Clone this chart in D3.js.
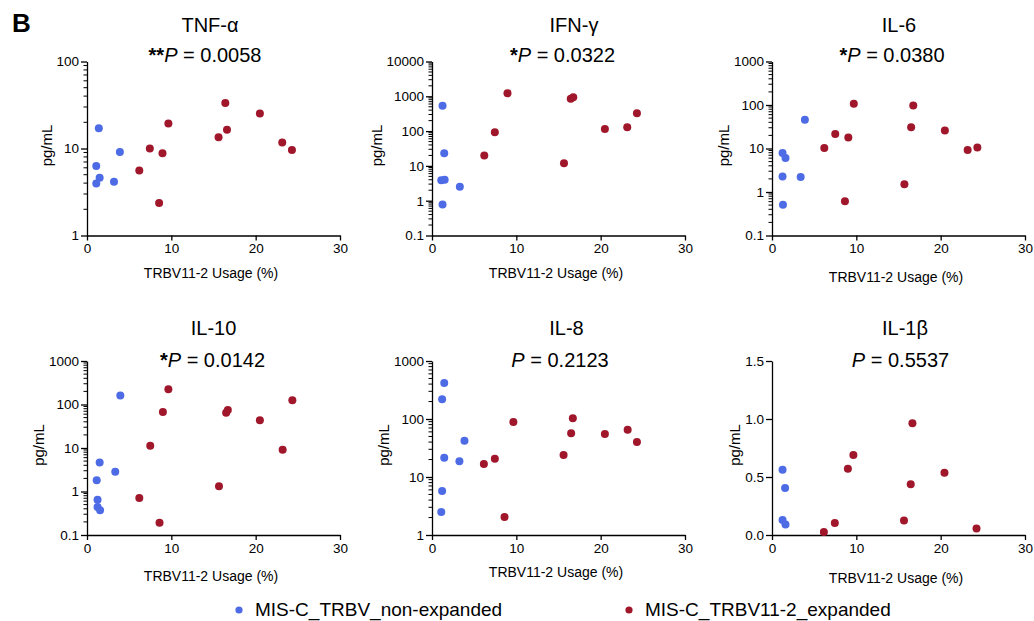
<!DOCTYPE html>
<meta charset="utf-8">
<script src="https://d3js.org/d3.v7.min.js"></script>
<style>
  body { margin: 0; background: #fff; }
  svg { display: block; }
  text { font-family: "Liberation Sans", Arial, sans-serif; fill: #000; }
</style>
<div id="my_dataviz"></div>
<script>
// each point is [TRBV11-2 usage (%), pg/mL]
var tnfNon = [[1.4, 17.1], [1.1, 6.3], [1.5, 4.6], [1.1, 3.95], [3.2, 4.15], [3.9, 9.1]];
var tnfExp = [[6.2, 5.6], [7.45, 10.0], [8.55, 2.37], [8.95, 8.8], [9.65, 19.4], [15.6, 13.5],
              [16.4, 33.3], [16.6, 16.4], [20.5, 25.3], [23.15, 11.7], [24.3, 9.6]];
var ifnNon = [[1.25, 537], [1.45, 23.2], [1.1, 3.9], [1.5, 4.0], [3.3, 2.5], [1.25, 0.78]];
var ifnExp = [[6.2, 19.9], [7.45, 93], [8.95, 1220], [15.65, 11.9], [16.45, 857], [16.75, 935],
              [20.5, 114], [23.15, 130], [24.3, 324]];
var il6Non = [[1.25, 7.9], [1.6, 6.05], [1.25, 2.26], [3.4, 2.22], [1.3, 0.51], [3.9, 45.9]];
var il6Exp = [[6.2, 10.3], [7.5, 21.5], [9.05, 18], [9.7, 107], [8.65, 0.61], [15.7, 1.51],
              [16.5, 30.6], [16.75, 98], [20.5, 26.1], [23.2, 9.2], [24.35, 10.6]];
var il10Non = [[3.95, 161], [1.5, 4.66], [3.35, 2.85], [1.15, 1.81], [1.25, 0.65], [1.25, 0.44], [1.55, 0.37]];
var il10Exp = [[6.2, 0.71], [7.5, 11.2], [8.6, 0.19], [9.0, 67], [9.65, 225], [15.65, 1.32],
               [16.5, 64.8], [16.7, 74.5], [20.5, 43.3], [23.2, 9.1], [24.35, 126]];
var il8Non = [[1.45, 418], [1.2, 218], [1.45, 21.5], [3.25, 18.6], [3.85, 42.3], [1.2, 5.74], [1.1, 2.49]];
var il8Exp = [[6.15, 16.8], [7.45, 20.7], [8.6, 2.04], [9.65, 88.8], [15.6, 23.9], [16.5, 56.6],
              [16.7, 103], [20.5, 55.1], [23.2, 65.5], [24.3, 40.1]];
var il1bNon = [[1.25, 0.563], [1.55, 0.406], [1.25, 0.129], [1.6, 0.091]];
var il1bExp = [[6.15, 0.026], [7.45, 0.103], [9.0, 0.571], [9.65, 0.689], [15.65, 0.126],
               [16.45, 0.437], [16.65, 0.963], [20.45, 0.537], [24.25, 0.057]];

var xTicks = [0, 10, 20, 30];
var tnfTicks = [1, 10, 100];
var ifnTicks = [0.1, 1, 10, 100, 1000, 10000];
var il6Ticks = [0.1, 1, 10, 100, 1000];
var il8Ticks = [1, 10, 100, 1000];
var il1bTicks = [0, 0.5, 1.0, 1.5];
var il1bLabels = ["0.0", "0.5", "1.0", "1.5"];

var legendNames = ["MIS-C_TRBV_non-expanded", "MIS-C_TRBV11-2_expanded"];
var blue = "#4e6be6", red = "#a0172b";

var width = 1034, height = 621;
var svg = d3.select("#my_dataviz").append("svg")
  .attr("width", width).attr("height", height);

var colX = [87, 432, 772], rowTop = [61.5, 361], plotW = 253, plotH = 174;
var titleY = [32, 335], pY = [61.5, 366.5];

var panels = [
  {title: "TNF-α", stars: "**", p: "0.0058", non: tnfNon, exp: tnfExp, log: true, dom: [1, 100], ticks: tnfTicks, c: 0, r: 0, tdx: -3.5, pdx: -8.5, ldy: 42},
  {title: "IFN-γ", stars: "*", p: "0.0322", non: ifnNon, exp: ifnExp, log: true, dom: [0.1, 10000], ticks: ifnTicks, c: 1, r: 0, tdx: 15.5, pdx: 4, ldy: 42},
  {title: "IL-6", stars: "*", p: "0.0380", non: il6Non, exp: il6Exp, log: true, dom: [0.1, 1000], ticks: il6Ticks, c: 2, r: 0, tdx: 0.5, pdx: -6.5, ldy: 46},
  {title: "IL-10", stars: "*", p: "0.0142", non: il10Non, exp: il10Exp, log: true, dom: [0.1, 1000], ticks: il6Ticks, c: 0, r: 1, tdx: 0, pdx: -1, ldy: 46},
  {title: "IL-8", stars: "", p: "0.2123", non: il8Non, exp: il8Exp, log: true, dom: [1, 1000], ticks: il8Ticks, c: 1, r: 1, tdx: 8, pdx: 1.5, ldy: 41.5},
  {title: "IL-1β", stars: "", p: "0.5537", non: il1bNon, exp: il1bExp, log: false, dom: [0, 1.5], ticks: il1bTicks, labels: il1bLabels, c: 2, r: 1, tdx: 6.5, pdx: 2, ldy: 48}
];

// panel letter
svg.append("text").attr("x", 12).attr("y", 31.5)
  .style("font-size", "26px").style("font-weight", "bold").text("B");

panels.forEach(function(pn) {
  var x0 = colX[pn.c], y0 = rowTop[pn.r];
  var g = svg.append("g").attr("transform", "translate(" + x0 + "," + y0 + ")");

  var x = d3.scaleLinear().domain([0, 30]).range([0, plotW]);
  var y = (pn.log ? d3.scaleLog() : d3.scaleLinear()).domain(pn.dom).range([plotH, 0]);

  // minor ticks on log axes (2..9 inside each decade)
  if (pn.log) {
    var minor = [];
    for (var d = pn.dom[0]; d < pn.dom[1] * 0.999; d *= 10) {
      for (var k = 2; k <= 9; k++) minor.push(d * k);
    }
    g.selectAll(".minor").data(minor).enter().append("line")
      .attr("x1", -3.5).attr("x2", 0)
      .attr("y1", function(v) { return y(v); }).attr("y2", function(v) { return y(v); })
      .attr("stroke", "#000").attr("stroke-width", 1);
  }

  var yAxis = d3.axisLeft(y).tickValues(pn.ticks).tickSizeInner(6).tickSizeOuter(0).tickPadding(2)
    .tickFormat(function(v, i) { return pn.labels ? pn.labels[i] : String(v); });
  var ya = g.append("g").call(yAxis);
  var xa = g.append("g").attr("transform", "translate(0," + plotH + ")")
    .call(d3.axisBottom(x).tickValues(xTicks).tickSizeInner(5).tickSizeOuter(0).tickPadding(3));

  [ya, xa].forEach(function(a) {
    a.selectAll("path, line").attr("stroke", "#000").attr("stroke-width", 1.3);
    a.selectAll("text").style("font-size", "13.5px").attr("fill", "#000").style("font-family", "Liberation Sans, Arial, sans-serif");
  });

  // y label placed left of the tick labels
  var bb = ya.node().getBBox();
  g.append("text")
    .attr("transform", "translate(" + (bb.x - 10) + "," + (plotH / 2 - 3) + ") rotate(-90)")
    .attr("text-anchor", "middle").attr("dy", "0.35em")
    .style("font-size", "15px").text("pg/mL");

  g.append("text").attr("x", plotW / 2 - 2.5).attr("y", plotH + pn.ldy)
    .attr("text-anchor", "middle").style("font-size", "14px").text("TRBV11-2 Usage (%)");

  // titles
  svg.append("text").attr("x", x0 + plotW / 2 + pn.tdx).attr("y", titleY[pn.r])
    .attr("text-anchor", "middle").style("font-size", "20px").text(pn.title);
  var pt = svg.append("text").attr("x", x0 + plotW / 2 + pn.pdx).attr("y", pY[pn.r])
    .attr("text-anchor", "middle").style("font-size", "20px");
  if (pn.stars) pt.append("tspan").style("font-weight", "bold").text(pn.stars);
  pt.append("tspan").style("font-style", "italic").text("P");
  pt.append("tspan").text(" = " + pn.p);

  // dots
  g.selectAll(".non").data(pn.non).enter().append("circle")
    .attr("cx", function(d) { return x(d[0]); }).attr("cy", function(d) { return y(d[1]); })
    .attr("r", 4).attr("fill", blue);
  g.selectAll(".exp").data(pn.exp).enter().append("circle")
    .attr("cx", function(d) { return x(d[0]); }).attr("cy", function(d) { return y(d[1]); })
    .attr("r", 4).attr("fill", red);
});

// legend
var legX = [239, 629];
[blue, red].forEach(function(col, i) {
  svg.append("circle").attr("cx", legX[i]).attr("cy", 610).attr("r", 3.6).attr("fill", col);
  svg.append("text").attr("x", legX[i] + 16).attr("y", 616)
    .style("font-size", "19px").text(legendNames[i]);
});
</script>
</body>
</html>
